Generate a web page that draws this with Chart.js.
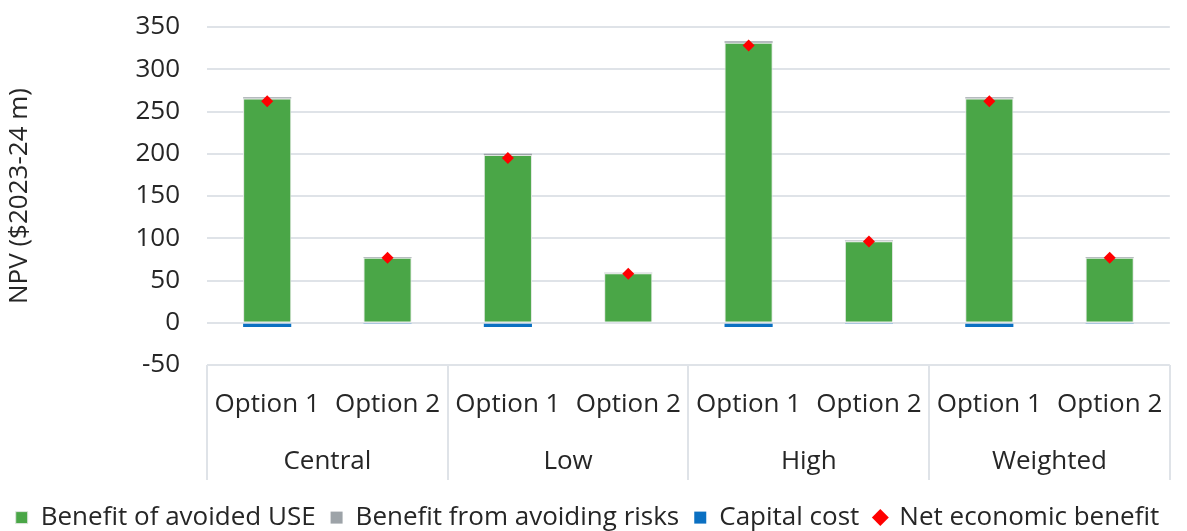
<!DOCTYPE html>
<html>
<head>
<meta charset="utf-8">
<script src="https://cdn.jsdelivr.net/npm/chart.js@4"></script>
<style>
  html, body { margin: 0; padding: 0; background: #fff; }
  #wrap { width: 1187px; height: 531px; }
</style>
</head>
<body>
<div id="wrap"><canvas id="npvChart"></canvas></div>
<script>
// Chart data
const options = ['Option 1', 'Option 2', 'Option 1', 'Option 2', 'Option 1', 'Option 2', 'Option 1', 'Option 2'];
const scenarios = ['Central', 'Low', 'High', 'Weighted'];
const avoidedUSE = [265.5, 77, 198.5, 58.5, 331.5, 96.5, 265.5, 77];
const avoidingRisks = [1.5, 0.8, 1.5, 0.7, 1.5, 0.8, 1.5, 0.8];
const capitalCost = [-5, -1, -5, -1.2, -5, -1, -5, -1];
const netBenefit = [262, 76.8, 195, 58, 328, 96.3, 262, 76.8];
const yTicks = [-50, 0, 50, 100, 150, 200, 250, 300, 350];

const textColor = '#262626';
const gridColor = '#dfe3e8';
const fontFamily = '"Open Sans", "Noto Sans", sans-serif';
const fontSize = 26;

// Fixed legend height so the item spacing doesn't push the plot up
const legendHeightPlugin = {
    id: 'legendHeight',
    beforeInit(chart) {
        const fit = chart.legend.fit;
        chart.legend.fit = function () {
            fit.bind(chart.legend)();
            this.height = 51;
        };
    }
};

// Draws the box round the two-level category labels
const groupBoxPlugin = {
    id: 'groupBox',
    afterDraw(chart) {
        const x = chart.scales.x;
        const x2 = chart.scales.x2;
        const ctx = chart.ctx;
        const half = (x.getPixelForValue(1) - x.getPixelForValue(0)) / 2;
        ctx.save();
        ctx.strokeStyle = gridColor;
        ctx.lineWidth = 2;
        for (let i = 0; i <= options.length; i += 2) {
            const px = Math.round(x.getPixelForValue(i) - half);
            ctx.beginPath();
            ctx.moveTo(px, chart.chartArea.bottom);
            ctx.lineTo(px, x2.bottom);
            ctx.stroke();
        }
        ctx.restore();
    }
};

const ctx = document.getElementById('npvChart').getContext('2d');
new Chart(ctx, {
    type: 'bar',
    data: {
        labels: options,
        datasets: [
            {
                label: 'Benefit of avoided USE',
                data: avoidedUSE,
                backgroundColor: '#4aa647',
                borderColor: '#dfe6df',
                borderWidth: 1,
                pointStyle: 'rect',
                order: 1
            },
            {
                label: 'Benefit from avoiding risks',
                data: avoidingRisks,
                backgroundColor: '#9da3a8',
                borderColor: '#9da3a8',
                borderWidth: 0,
                pointStyle: 'rect',
                order: 1
            },
            {
                label: 'Capital cost',
                data: capitalCost,
                backgroundColor: '#0b70c2',
                borderWidth: 0,
                pointStyle: 'rect',
                order: 1
            },
            {
                type: 'line',
                label: 'Net economic benefit',
                data: netBenefit,
                stack: 'net',
                showLine: false,
                pointStyle: 'rectRot',
                pointRadius: 6,
                pointHoverRadius: 6,
                backgroundColor: '#ff0000',
                borderColor: '#ff0000',
                borderWidth: 0,
                order: 0
            }
        ]
    },
    options: {
        responsive: true,
        maintainAspectRatio: false,
        animation: false,
        datasets: {
            bar: { barPercentage: 0.4, categoryPercentage: 1 }
        },
        layout: { padding: { top: 27, right: 12, left: 0, bottom: 0 } },
        plugins: {
            legend: {
                position: 'bottom',
                title: { display: true, text: '', padding: 0, font: { size: 8 } },
                labels: {
                    usePointStyle: true,
                    boxWidth: 12,
                    boxHeight: 12,
                    padding: 15,
                    color: textColor,
                    font: { family: fontFamily, size: fontSize },
                    sort: (a, b) => a.datasetIndex - b.datasetIndex
                }
            },
            tooltip: { enabled: false }
        },
        scales: {
            x: {
                stacked: true,
                grid: { display: false, drawTicks: false },
                border: { display: false },
                ticks: {
                    color: textColor,
                    padding: 24,
                    maxRotation: 0,
                    font: { family: fontFamily, size: fontSize }
                },
                afterFit: scale => { scale.height = 70; }
            },
            x2: {
                type: 'category',
                labels: scenarios,
                offset: true,
                position: 'bottom',
                grid: { display: false, drawTicks: false },
                border: { display: false },
                ticks: {
                    color: textColor,
                    padding: 11,
                    maxRotation: 0,
                    font: { family: fontFamily, size: fontSize }
                },
                afterFit: scale => { scale.height = 45; }
            },
            y: {
                stacked: true,
                min: -50,
                max: 350,
                afterBuildTicks: scale => { scale.ticks = yTicks.map(v => ({ value: v })); },
                grid: { color: gridColor, lineWidth: 2, drawTicks: true, tickLength: 27, tickColor: 'rgba(0,0,0,0)' },
                border: { display: false },
                ticks: {
                    color: textColor,
                    padding: 0,
                    font: { family: fontFamily, size: fontSize }
                },
                title: {
                    display: true,
                    text: 'NPV ($2023-24 m)',
                    color: textColor,
                    padding: { top: 4, bottom: 0 },
                    font: { family: fontFamily, size: fontSize }
                },
                afterFit: scale => { scale.width = 207; }
            }
        }
    },
    plugins: [legendHeightPlugin, groupBoxPlugin]
});
</script>
</body>
</html>
